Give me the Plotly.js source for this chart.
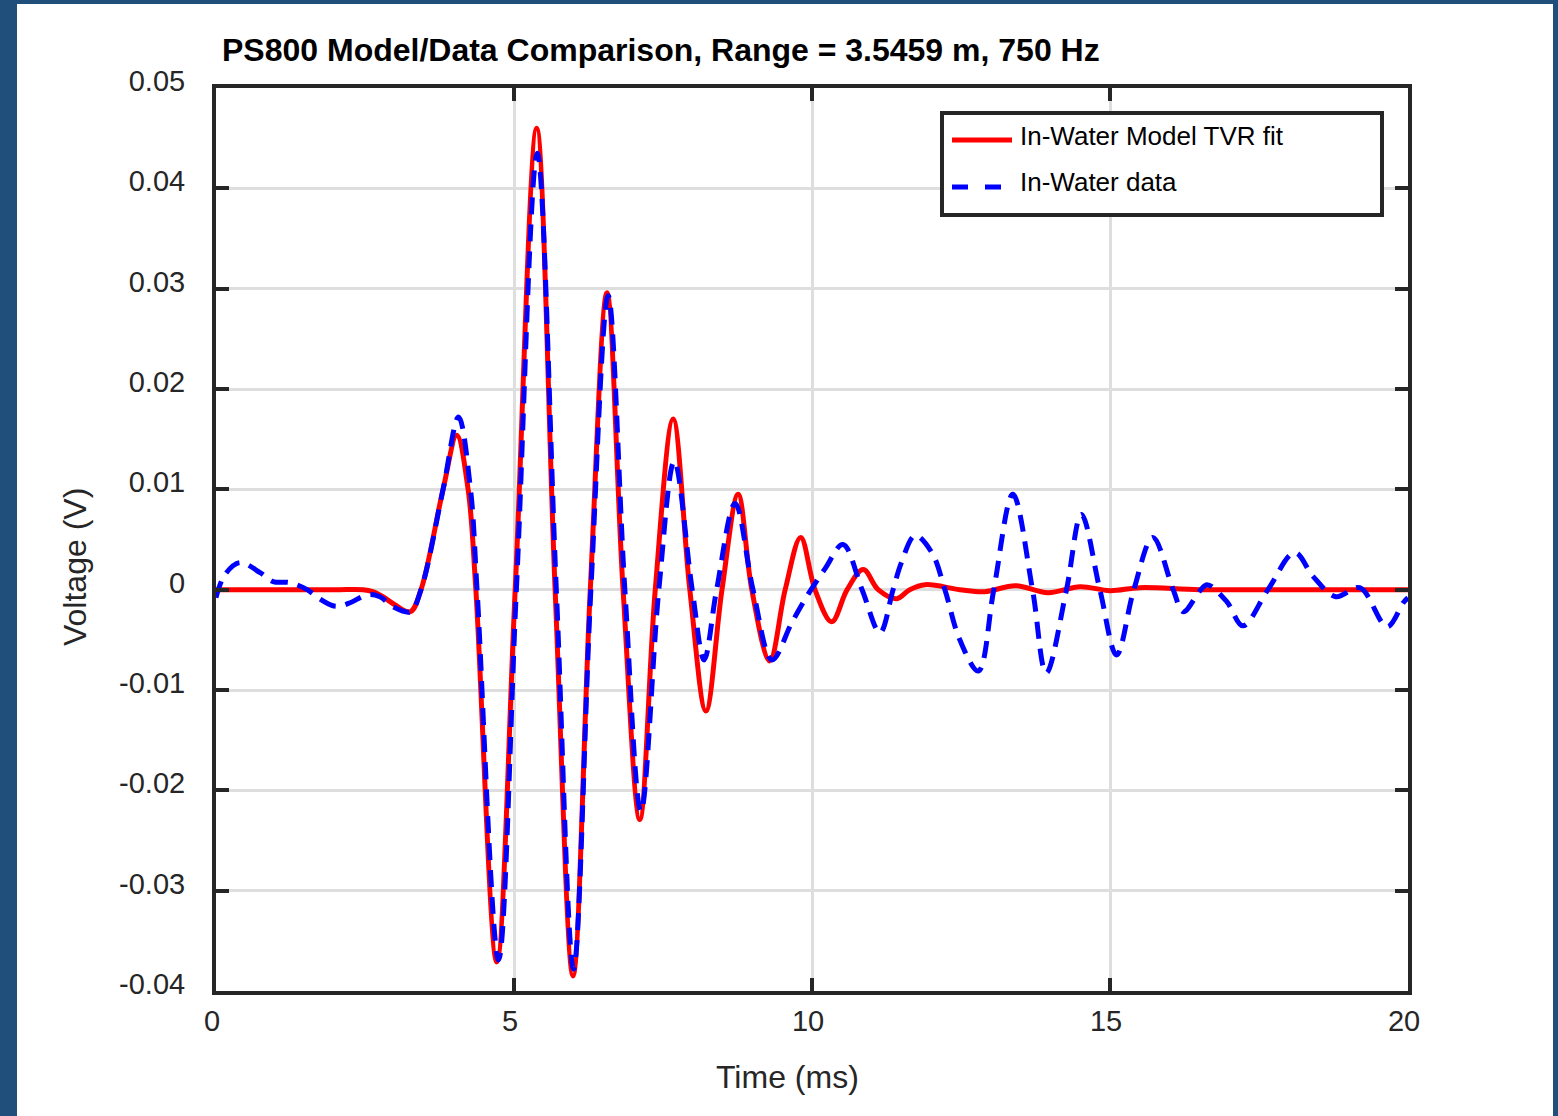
<!DOCTYPE html>
<html>
<head>
<meta charset="utf-8">
<script src="https://cdn.plot.ly/plotly-3.0.1.min.js"></script>
<style>
html,body{margin:0;padding:0;background:#1f4f7a;}
#chart{width:1558px;height:1116px;}
</style>
</head>
<body>
<div id="chart"></div>
<script>
// ---- data ----
var modelTime = [0, 1.0, 2.0, 2.47, 2.63, 2.80, 3.00, 3.26, 3.44, 3.81, 4.04, 4.23, 4.36, 4.71, 5.02, 5.38, 5.69, 5.99, 6.28, 6.56, 6.83, 7.11, 7.37, 7.67, 7.95, 8.22, 8.49, 8.76, 8.99, 9.29, 9.55, 9.81, 10.05, 10.33, 10.59, 10.86, 11.11, 11.42, 11.64, 11.90, 12.48, 12.90, 13.41, 13.96, 14.50, 15.00, 15.50, 16.50, 18.0, 20.0];
var modelVoltage = [0, 0, 0, 0, -0.0002, -0.0007, -0.0015, -0.0022, 0, 0.0100, 0.0154, 0.0100, 0, -0.0371, 0, 0.0460, 0, -0.0385, 0, 0.0296, 0, -0.0229, 0, 0.0170, 0, -0.0121, 0, 0.0095, 0, -0.0071, 0, 0.0052, 0, -0.0032, 0, 0.0020, 0, -0.0009, 0, 0.0005, 0, -0.0002, 0.0004, -0.0003, 0.0003, -0.0001, 0.0002, 0, 0, 0];

var dataTime = [0, 0.15, 0.40, 0.74, 0.96, 1.24, 1.53, 1.71, 1.96, 2.10, 2.25, 2.55, 2.75, 2.97, 3.26, 3.44, 3.81, 4.07, 4.27, 4.38, 4.74, 5.04, 5.39, 5.71, 6.00, 6.29, 6.58, 6.86, 7.13, 7.43, 7.69, 7.99, 8.19, 8.40, 8.71, 9.01, 9.33, 9.66, 9.92, 10.22, 10.52, 10.84, 11.14, 11.36, 11.50, 11.73, 12.01, 12.23, 12.48, 12.79, 13.05, 13.37, 13.70, 13.93, 14.27, 14.52, 14.83, 15.11, 15.40, 15.72, 16.06, 16.23, 16.51, 16.63, 16.96, 17.23, 17.65, 18.10, 18.41, 18.79, 19.19, 19.65, 19.92, 20.0];
var dataVoltage = [-0.0008, 0.0015, 0.0027, 0.0017, 0.0008, 0.0007, 0.0000, -0.0008, -0.0016, -0.0016, -0.0013, -0.0005, -0.0007, -0.0017, -0.0022, 0, 0.0100, 0.0172, 0.0100, 0, -0.0369, 0, 0.0435, 0, -0.0378, 0, 0.0293, 0, -0.0221, 0, 0.0128, 0, -0.0070, 0, 0.0086, 0, -0.0070, -0.0033, -0.0006, 0.0021, 0.0045, 0, -0.0043, 0, 0.0027, 0.0054, 0.0037, 0, -0.0050, -0.0081, 0, 0.0095, 0, -0.0083, 0, 0.0075, 0, -0.0065, 0, 0.0052, 0, -0.0022, -0.0001, 0.0005, -0.0012, -0.0036, 0, 0.0037, 0.0013, -0.0007, 0.0002, -0.0037, -0.0013, -0.0008];

var seriesNames = ['In-Water Model TVR fit', 'In-Water data'];
var xTickVals = [0, 5, 10, 15, 20];
var xTickText = ['0', '5', '10', '15', '20'];
var yTickVals = [-0.04, -0.03, -0.02, -0.01, 0, 0.01, 0.02, 0.03, 0.04, 0.05];
var yTickText = ['-0.04', '-0.03', '-0.02', '-0.01', '0', '0.01', '0.02', '0.03', '0.04', '0.05'];
var titleText = 'PS800 Model/Data Comparison, Range = 3.5459 m, 750 Hz';
var xLabel = 'Time (ms)';
var yLabel = 'Voltage (V)';

// ---- geometry helpers (pixel -> paper) ----
var W = 1558, H = 1116;
var L = 216, R = 1408, T = 88, B = 991;
function px(x) { return (x - L) / (R - L); }
function py(y) { return (B - y) / (B - T); }

var FONT = '"Liberation Sans", Arial, Helvetica, sans-serif';
var AX = '#262626';

var traces = [
  {x: modelTime, y: modelVoltage, name: seriesNames[0], type: 'scatter', mode: 'lines',
   line: {color: '#ff0000', width: 5, shape: 'spline', smoothing: 1}, hoverinfo: 'skip'},
  {x: dataTime, y: dataVoltage, name: seriesNames[1], type: 'scatter', mode: 'lines',
   line: {color: '#0000ff', width: 5, shape: 'spline', smoothing: 1, dash: '17px,10px'}, hoverinfo: 'skip'}
];

var axisCommon = {
  showline: true, linecolor: AX, linewidth: 4, mirror: 'ticks',
  ticks: 'inside', ticklen: 13, tickwidth: 4, tickcolor: AX,
  showgrid: true, gridcolor: '#dedede', gridwidth: 3,
  zeroline: false, tickmode: 'array',
  tickfont: {family: FONT, size: 29, color: AX}
};

var layout = {
  width: W, height: H,
  paper_bgcolor: '#1f4f7a', plot_bgcolor: '#ffffff',
  margin: {l: L, r: W - R, t: T, b: H - B, pad: 0},
  showlegend: false,
  xaxis: Object.assign({}, axisCommon, {range: [0, 20], tickvals: xTickVals, ticktext: xTickText,
    ticklabelstandoff: 1, ticklabelshift: -4}),
  yaxis: Object.assign({}, axisCommon, {range: [-0.04, 0.05], tickvals: yTickVals, ticktext: yTickText,
    ticklabelstandoff: 21, ticklabelshift: -7}),
  title: {text: '<b>' + titleText + '</b>', font: {family: FONT, size: 32, color: '#000000'},
          x: px(222), xref: 'paper', xanchor: 'left', y: 1 - 50 / H, yref: 'container', yanchor: 'middle'},
  shapes: [
    // white figure panel
    {type: 'rect', xref: 'paper', yref: 'paper', x0: px(17), x1: px(1553), y0: py(1130), y1: py(4),
     fillcolor: '#ffffff', line: {width: 0}, layer: 'below'},
    // legend box
    {type: 'rect', xref: 'paper', yref: 'paper', x0: px(942), x1: px(1382), y0: py(215), y1: py(113),
     fillcolor: '#ffffff', line: {color: '#262626', width: 4}, layer: 'above'},
    {type: 'line', xref: 'paper', yref: 'paper', x0: px(952), x1: px(1012), y0: py(140), y1: py(140),
     line: {color: '#ff0000', width: 5}, layer: 'above'},
    {type: 'line', xref: 'paper', yref: 'paper', x0: px(952), x1: px(1001), y0: py(187), y1: py(187),
     line: {color: '#0000ff', width: 5, dash: '16px,17px'}, layer: 'above'}
  ],
  annotations: [
    {text: seriesNames[0], xref: 'paper', yref: 'paper', x: px(1018), y: py(136), xanchor: 'left', yanchor: 'middle',
     showarrow: false, font: {family: FONT, size: 26, color: '#000000'}},
    {text: seriesNames[1], xref: 'paper', yref: 'paper', x: px(1018), y: py(182), xanchor: 'left', yanchor: 'middle',
     showarrow: false, font: {family: FONT, size: 26, color: '#000000'}},
    {text: xLabel, xref: 'paper', yref: 'paper', x: px(787), y: py(1077), xanchor: 'center', yanchor: 'middle',
     showarrow: false, font: {family: FONT, size: 32, color: AX}},
    {text: yLabel, xref: 'paper', yref: 'paper', x: px(75), y: py(567), xanchor: 'center', yanchor: 'middle',
     textangle: -90, showarrow: false, font: {family: FONT, size: 32, color: AX}}
  ]
};

Plotly.newPlot('chart', traces, layout, {displayModeBar: false, staticPlot: true});
</script>
</body>
</html>
